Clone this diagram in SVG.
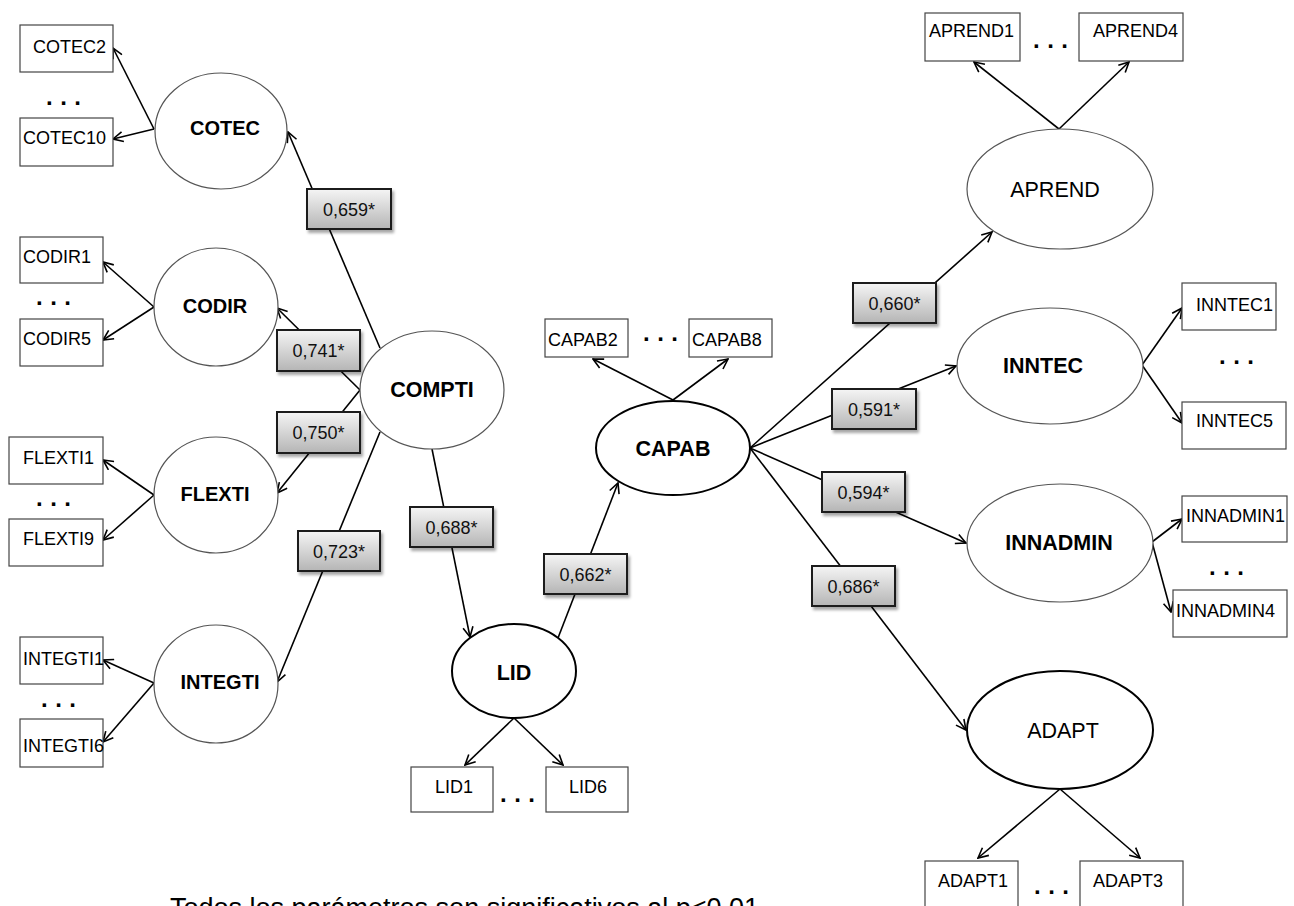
<svg xmlns="http://www.w3.org/2000/svg" width="1294" height="906" viewBox="0 0 1294 906">
<defs>
<style>
.ind{font-family:"Liberation Sans",Arial,sans-serif;font-size:18px;fill:#000}
.lat{font-family:"Liberation Sans",Arial,sans-serif;font-size:20px;font-weight:bold;text-anchor:middle;fill:#000}
.latb{font-family:"Liberation Sans",Arial,sans-serif;font-size:21.5px;font-weight:bold;text-anchor:middle;fill:#000}
.latr{font-family:"Liberation Sans",Arial,sans-serif;font-size:21.5px;text-anchor:middle;fill:#000}
.coef{font-family:"Liberation Sans",Arial,sans-serif;font-size:18px;text-anchor:middle;fill:#111}
.dots{font-family:"Liberation Sans",Arial,sans-serif;font-size:24px;font-weight:bold;letter-spacing:7.5px;fill:#000}
.note{font-family:"Liberation Sans",Arial,sans-serif;font-size:27px;fill:#000}
.box{fill:#fff;stroke:#444;stroke-width:1.2}
.ell{fill:#fff;stroke:#555;stroke-width:1.2}
.ellb{fill:#fff;stroke:#000;stroke-width:2}
.ln{stroke:#000;stroke-width:1.6;fill:none;marker-end:url(#ah)}
.lb{fill:url(#lg);stroke:#1a1a1a;stroke-width:2;filter:url(#sh)}
</style>
<marker id="ah" viewBox="0 0 12 12" refX="11" refY="6" markerWidth="12" markerHeight="12" markerUnits="userSpaceOnUse" orient="auto">
<path d="M1,1 L11,6 L1,11" fill="none" stroke="#000" stroke-width="1.6"/>
</marker>
<linearGradient id="lg" x1="0" y1="0" x2="0" y2="1">
<stop offset="0" stop-color="#f5f5f5"/>
<stop offset="1" stop-color="#b5b5b5"/>
</linearGradient>
<filter id="sh" x="-10%" y="-15%" width="130%" height="150%">
<feDropShadow dx="2" dy="3" stdDeviation="1.5" flood-color="#000" flood-opacity="0.35"/>
</filter>
</defs>
<rect width="1294" height="906" fill="#fff"/>

<g id="connectors">
<line class="ln" x1="154" y1="129" x2="113" y2="48"/>
<line class="ln" x1="154" y1="129" x2="113" y2="139"/>
<line class="ln" x1="154" y1="307" x2="103" y2="262"/>
<line class="ln" x1="154" y1="307" x2="103" y2="340"/>
<line class="ln" x1="154" y1="495" x2="103" y2="460"/>
<line class="ln" x1="154" y1="495" x2="103" y2="540"/>
<line class="ln" x1="154" y1="683" x2="103" y2="660"/>
<line class="ln" x1="154" y1="683" x2="103" y2="742"/>
<line class="ln" x1="673" y1="400" x2="593" y2="359"/>
<line class="ln" x1="673" y1="400" x2="728" y2="359"/>
<line class="ln" x1="514" y1="718" x2="465" y2="765"/>
<line class="ln" x1="514" y1="718" x2="563" y2="765"/>
<line class="ln" x1="1059" y1="129" x2="974" y2="62"/>
<line class="ln" x1="1059" y1="129" x2="1129" y2="62"/>
<line class="ln" x1="1142" y1="365" x2="1182" y2="308"/>
<line class="ln" x1="1142" y1="365" x2="1182" y2="423"/>
<line class="ln" x1="1152" y1="542" x2="1182" y2="519"/>
<line class="ln" x1="1152" y1="542" x2="1171" y2="612"/>
<line class="ln" x1="1060" y1="789" x2="978" y2="858"/>
<line class="ln" x1="1060" y1="789" x2="1140" y2="858"/>

<line class="ln" x1="380" y1="348" x2="288" y2="132"/>
<line class="ln" x1="360" y1="390" x2="277" y2="308"/>
<line class="ln" x1="360" y1="390" x2="277" y2="493"/>
<line class="ln" x1="380" y1="432" x2="277" y2="682"/>
<line class="ln" x1="432" y1="449" x2="470" y2="637"/>
<line class="ln" x1="558" y1="638" x2="618" y2="483"/>
<line class="ln" x1="750" y1="448" x2="992" y2="232"/>
<line class="ln" x1="750" y1="448" x2="956" y2="366"/>
<line class="ln" x1="750" y1="448" x2="966" y2="543"/>
<line class="ln" x1="750" y1="448" x2="966" y2="730"/>

<g id="coef-labels">
<rect class="lb" x="307" y="189" width="84" height="40"/><text class="coef" x="349" y="216">0,659*</text>
<rect class="lb" x="277" y="330" width="83" height="41"/><text class="coef" x="318.5" y="357">0,741*</text>
<rect class="lb" x="277" y="412" width="83" height="41"/><text class="coef" x="318.5" y="439">0,750*</text>
<rect class="lb" x="298" y="531" width="82" height="40"/><text class="coef" x="339" y="558">0,723*</text>
<rect class="lb" x="410" y="507" width="83" height="40"/><text class="coef" x="451.5" y="534">0,688*</text>
<rect class="lb" x="544" y="554" width="83" height="40"/><text class="coef" x="585.5" y="581">0,662*</text>
<rect class="lb" x="853" y="283" width="83" height="40"/><text class="coef" x="894.5" y="310">0,660*</text>
<rect class="lb" x="832" y="389" width="84" height="40"/><text class="coef" x="874" y="416">0,591*</text>
<rect class="lb" x="822" y="472" width="83" height="40"/><text class="coef" x="863.5" y="499">0,594*</text>
<rect class="lb" x="812" y="566" width="83" height="40"/><text class="coef" x="853.5" y="593">0,686*</text>
</g>
</g>

<g id="COTEC"><ellipse class="ell" cx="221" cy="131" rx="66" ry="58"/><text class="lat" x="225" y="135">COTEC</text></g>
<g id="CODIR"><ellipse class="ell" cx="216" cy="307" rx="62" ry="59"/><text class="lat" x="215" y="313">CODIR</text></g>
<g id="FLEXTI"><ellipse class="ell" cx="216" cy="495" rx="62" ry="58"/><text class="lat" x="215" y="501">FLEXTI</text></g>
<g id="INTEGTI"><ellipse class="ell" cx="216" cy="684" rx="62" ry="59"/><text class="lat" x="220" y="689">INTEGTI</text></g>
<g id="COMPTI"><ellipse class="ell" cx="432" cy="390" rx="72" ry="59"/><text class="latb" x="432" y="397">COMPTI</text></g>
<g id="LID"><ellipse class="ellb" cx="514" cy="671" rx="62" ry="47"/><text class="latb" x="514" y="680">LID</text></g>
<g id="CAPAB"><ellipse class="ellb" cx="673" cy="448" rx="77" ry="47"/><text class="latb" x="673" y="456">CAPAB</text></g>
<g id="APREND"><ellipse class="ell" cx="1060" cy="189" rx="93" ry="60"/><text class="latr" x="1055" y="197">APREND</text></g>
<g id="INNTEC"><ellipse class="ell" cx="1050" cy="366" rx="93" ry="58"/><text class="latb" x="1043" y="373">INNTEC</text></g>
<g id="INNADMIN"><ellipse class="ell" cx="1060" cy="543" rx="93" ry="59"/><text class="latb" x="1059" y="550">INNADMIN</text></g>
<g id="ADAPT"><ellipse class="ellb" cx="1060" cy="730" rx="93" ry="59"/><text class="latr" x="1063" y="738">ADAPT</text></g>

<g id="COTEC2"><rect class="box" x="20" y="25" width="93" height="47"/><text class="ind" x="33" y="53">COTEC2</text></g>
<g id="COTEC10"><rect class="box" x="20" y="118" width="93" height="48"/><text class="ind" x="23" y="144">COTEC10</text></g>
<g id="CODIR1"><rect class="box" x="20" y="237" width="83" height="46"/><text class="ind" x="23" y="263">CODIR1</text></g>
<g id="CODIR5"><rect class="box" x="20" y="319" width="83" height="47"/><text class="ind" x="23" y="345">CODIR5</text></g>
<g id="FLEXTI1"><rect class="box" x="9" y="437" width="94" height="47"/><text class="ind" x="23" y="464">FLEXTI1</text></g>
<g id="FLEXTI9"><rect class="box" x="9" y="519" width="94" height="47"/><text class="ind" x="23" y="545">FLEXTI9</text></g>
<g id="INTEGTI1"><rect class="box" x="20" y="637" width="83" height="47"/><text class="ind" x="23" y="665">INTEGTI1</text></g>
<g id="INTEGTI6"><rect class="box" x="20" y="719" width="83" height="48"/><text class="ind" x="23" y="752">INTEGTI6</text></g>
<g id="CAPAB2"><rect class="box" x="545" y="319" width="83" height="38"/><text class="ind" x="548" y="346">CAPAB2</text></g>
<g id="CAPAB8"><rect class="box" x="689" y="319" width="83" height="38"/><text class="ind" x="692" y="346">CAPAB8</text></g>
<g id="LID1"><rect class="box" x="411" y="767" width="82" height="45"/><text class="ind" x="435" y="793">LID1</text></g>
<g id="LID6"><rect class="box" x="546" y="767" width="82" height="45"/><text class="ind" x="569" y="793">LID6</text></g>
<g id="APREND1"><rect class="box" x="925" y="13" width="95" height="48"/><text class="ind" x="929" y="37">APREND1</text></g>
<g id="APREND4"><rect class="box" x="1079" y="13" width="104" height="48"/><text class="ind" x="1093" y="37">APREND4</text></g>
<g id="INNTEC1"><rect class="box" x="1182" y="283" width="94" height="47"/><text class="ind" x="1196" y="311">INNTEC1</text></g>
<g id="INNTEC5"><rect class="box" x="1182" y="402" width="104" height="47"/><text class="ind" x="1196" y="427">INNTEC5</text></g>
<g id="INNADMIN1"><rect class="box" x="1182" y="496" width="105" height="46"/><text class="ind" x="1186" y="522">INNADMIN1</text></g>
<g id="INNADMIN4"><rect class="box" x="1173" y="590" width="114" height="47"/><text class="ind" x="1176" y="617">INNADMIN4</text></g>
<g id="ADAPT1"><rect class="box" x="925" y="861" width="93" height="50"/><text class="ind" x="938" y="887">ADAPT1</text></g>
<g id="ADAPT3"><rect class="box" x="1080" y="861" width="103" height="50"/><text class="ind" x="1093" y="887">ADAPT3</text></g>

<g id="ellipses-dots">
<text class="dots" x="46" y="105">...</text>
<text class="dots" x="36" y="305">...</text>
<text class="dots" x="36" y="506">...</text>
<text class="dots" x="41" y="707">...</text>
<text class="dots" x="643" y="341">...</text>
<text class="dots" x="500" y="802">...</text>
<text class="dots" x="1033" y="48">...</text>
<text class="dots" x="1219" y="364">...</text>
<text class="dots" x="1209" y="575">...</text>
<text class="dots" x="1034" y="894">...</text>
</g>

<text class="note" x="170" y="917">Todos los parámetros son significativos al p&lt;0,01</text>
</svg>
